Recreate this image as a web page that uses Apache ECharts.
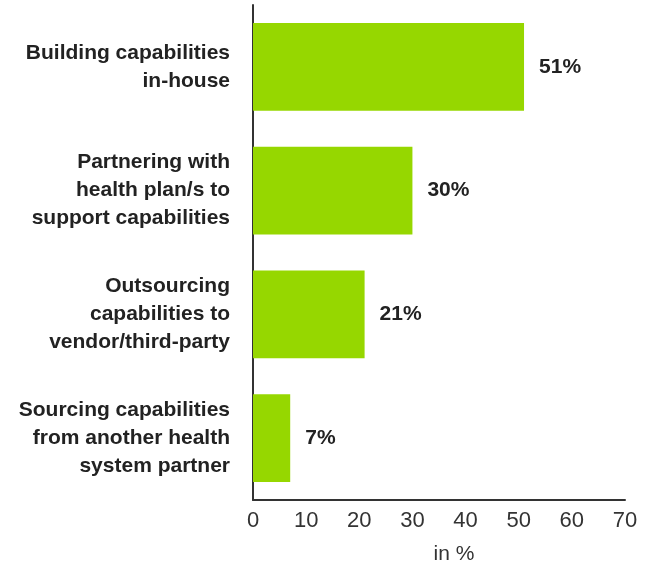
<!DOCTYPE html>
<html><head><meta charset="utf-8">
<script src="https://cdn.jsdelivr.net/npm/echarts@6/dist/echarts.min.js"></script>
<style>html,body{margin:0;padding:0;background:#fff}#c{width:650px;height:565px}</style>
</head><body><div id="c"></div>
<script>
const categories = ["Building capabilities\nin-house", "Partnering with\nhealth plan/s to\nsupport capabilities", "Outsourcing\ncapabilities to\nvendor/third-party", "Sourcing capabilities\nfrom another health\nsystem partner"];
const values = [51, 30, 21, 7];
const xTicks = [0, 10, 20, 30, 40, 50, 60, 70];
const FONT = '"Liberation Sans", Arial, Helvetica, sans-serif';
const chart = echarts.init(document.getElementById('c'));
chart.setOption({
  animation: false,
  grid: {left: 253, right: 25, top: 5, bottom: 65, containLabel: false, outerBoundsMode: 'none'},
  xAxis: {
    type: 'value', min: xTicks[0], max: xTicks[xTicks.length-1], interval: 10,
    axisLine: {show: true, lineStyle: {color: '#333', width: 2}},
    axisTick: {show: false}, splitLine: {show: false},
    axisLabel: {color: '#333', fontSize: 22, fontFamily: FONT, margin: 10},
    name: 'in %', nameLocation: 'middle', nameGap: 44,
    nameTextStyle: {color: '#333', fontSize: 21, fontFamily: FONT, padding: [0, 0, 0, 30]}
  },
  yAxis: {
    type: 'category', data: categories, inverse: true,
    axisLine: {show: true, lineStyle: {color: '#333', width: 2}},
    axisTick: {show: false},
    axisLabel: {color: '#222', fontSize: 21, fontWeight: 'bold', fontFamily: FONT, margin: 23, lineHeight: 28, align: 'right', padding: [5, 0, 0, 0]}
  },
  series: [{
    type: 'bar', data: values, barCategoryGap: '29%',
    itemStyle: {color: '#96d700'},
    label: {show: true, position: 'right', distance: 15, formatter: '{c}%', color: '#222', fontSize: 21, fontWeight: 'bold', fontFamily: FONT, padding: [5, 0, 0, 0]}
  }]
});
</script></body></html>
